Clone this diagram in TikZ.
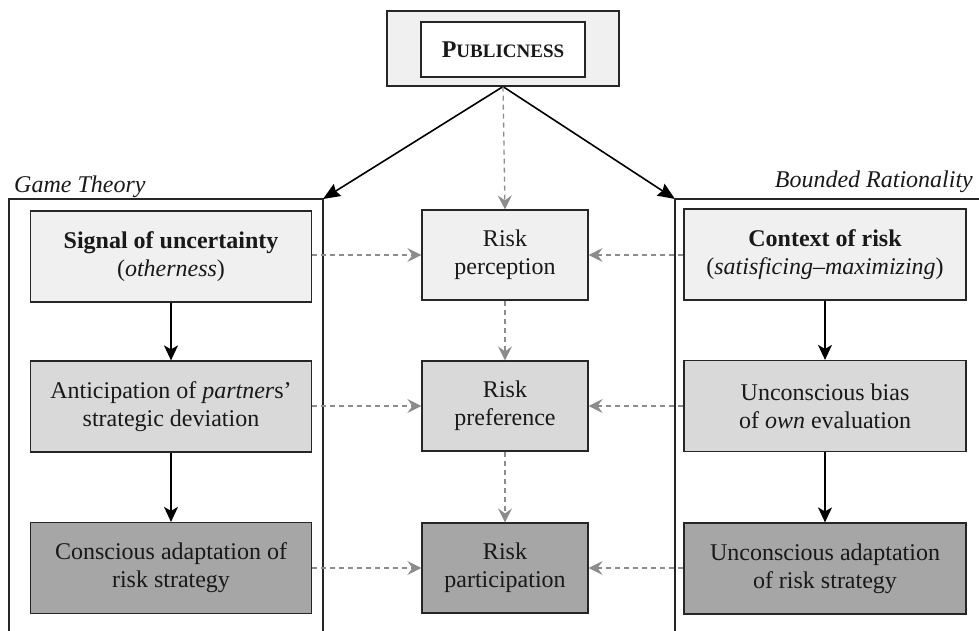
\documentclass[tikz,border=0pt]{standalone}
\usepackage{fontspec}
\setmainfont{Liberation Serif}
\usetikzlibrary{arrows.meta}
\definecolor{fillA}{HTML}{F0F0F0}
\definecolor{fillB}{HTML}{D9D9D9}
\definecolor{fillC}{HTML}{A6A6A6}
\definecolor{dashgray}{HTML}{8C8C8C}
\begin{document}
\begin{tikzpicture}[x=1pt,y=-1pt,
  txt/.style={font=\fontsize{24}{28}\selectfont, align=center, text=black!90},
  stage/.style={txt, draw=black!85, line width=1.2pt, inner sep=0pt},
  sidebox/.style={stage, minimum width=281pt, minimum height=91pt},
  midbox/.style={stage, minimum width=166pt, minimum height=90pt},
  frame/.style={draw=black!85, line width=1.2pt},
  solidarrow/.style={draw=black, line width=1.6pt, -{Stealth[length=15pt,width=14pt,inset=4pt]}},
  bigarrow/.style={solidarrow, -{Stealth[length=17pt,width=14pt,inset=2pt]}},
  dasharrow/.style={draw=dashgray, line width=1.3pt, dash pattern=on 5pt off 4pt,
    -{Stealth[length=14pt,width=14pt,inset=5pt]}},
  sidelabel/.style={font=\fontsize{24}{28}\selectfont\itshape, text=black!90, inner sep=0pt}
]
\useasboundingbox (0,0) rectangle (979,630);

% Publicness header
\node[frame, fill=fillA, minimum width=232pt, minimum height=75pt, inner sep=0pt] (pubouter) at (503,48.5) {};
\node[frame, fill=white, minimum width=164pt, minimum height=55pt, inner sep=0pt,
  font=\bfseries, text=black!90] (pubinner) at (503,49.5)
  {{\fontsize{24}{28}\selectfont P}{\fontsize{19}{28}\selectfont UBLICNESS}};

% Frames of the two theoretical perspectives
\coordinate (gtcorner) at (323,199);
\coordinate (brcorner) at (675,199);
\draw[frame] (9,631) -- (9,199) -- (gtcorner) -- (323,631);
\draw[frame] (brcorner) -- (675,631);
\draw[frame] (brcorner) -- (980,199);
\node[sidelabel, anchor=base west] (gtlabel) at (14,192) {Game Theory};
\node[sidelabel, anchor=base east] (brlabel) at (973,187) {Bounded Rationality};

% Game theory column
\node[sidebox, fill=fillA] (signal) at (171,256.5)
  {\textbf{Signal of uncertainty}\\(\textit{otherness})};
\node[sidebox, fill=fillB] (anticip) at (171,406.5)
  {Anticipation of \textit{partner}s'\\strategic deviation};
\node[sidebox, fill=fillC] (conscious) at (171,568)
  {Conscious adaptation of\\risk strategy};

% Central risk column
\node[midbox, fill=fillA] (percep) at (505,255) {Risk\\perception};
\node[midbox, fill=fillB] (prefer) at (505,406) {Risk\\preference};
\node[midbox, fill=fillC] (partic) at (505,568) {Risk\\participation};

% Bounded rationality column
\node[sidebox, fill=fillA, minimum width=282pt] (context) at (825,254.5)
  {\textbf{Context of risk}\\(\textit{satisficing--maximizing})};
\node[sidebox, fill=fillB, minimum width=282pt] (bias) at (825,406)
  {Unconscious bias\\of \textit{own} evaluation};
\node[sidebox, fill=fillC, minimum width=282pt] (unconscious) at (825,568.5)
  {Unconscious adaptation\\of risk strategy};

% Connectors from the header
\draw[bigarrow] (pubouter.south) -- (gtcorner);
\draw[bigarrow] (pubouter.south) -- (brcorner);
\draw[dasharrow] (pubouter.south) -- (percep.north);

% Flow within the side columns
\draw[solidarrow] (signal) -- (anticip);
\draw[solidarrow] (anticip) -- (conscious);
\draw[solidarrow] (context) -- (bias);
\draw[solidarrow] (bias) -- (unconscious);

% Flow within the central column
\draw[dasharrow] (percep) -- (prefer);
\draw[dasharrow] (prefer) -- (partic);

% Horizontal links into the central column
\draw[dasharrow] (signal.east |- percep) -- (percep.west);
\draw[dasharrow] (anticip.east |- prefer) -- (prefer.west);
\draw[dasharrow] (conscious.east |- partic) -- (partic.west);
\draw[dasharrow] (context.west |- percep) -- (percep.east);
\draw[dasharrow] (bias.west |- prefer) -- (prefer.east);
\draw[dasharrow] (unconscious.west |- partic) -- (partic.east);
\end{tikzpicture}
\end{document}
